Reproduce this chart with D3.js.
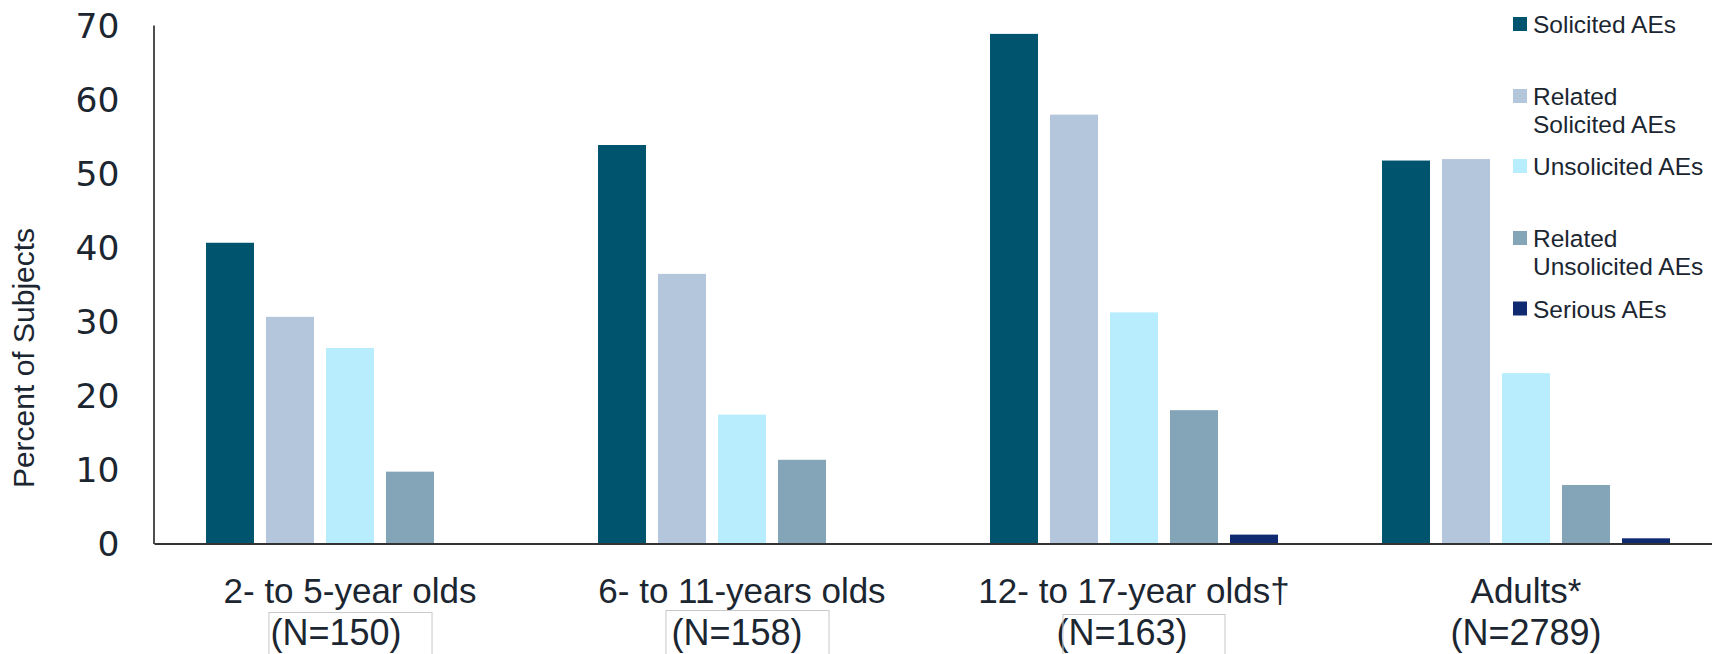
<!DOCTYPE html>
<html>
<head>
<meta charset="utf-8">
<script src="https://cdn.jsdelivr.net/npm/d3@7"></script>
<style>
  html, body { margin: 0; padding: 0; background: #fff; }
  svg { display: block; }
</style>
</head>
<body>
<svg id="chart" width="1712" height="654"></svg>
<script>
// ---- data ----
const categories = ["2- to 5-year olds", "6- to 11-years olds", "12- to 17-year olds\u2020", "Adults*"];
const sampleSizes = ["(N=150)", "(N=158)", "(N=163)", "(N=2789)"];
const seriesNames = ["Solicited AEs", "Related Solicited AEs", "Unsolicited AEs", "Related Unsolicited AEs", "Serious AEs"];
const solicited          = [40.6, 53.8, 68.8, 51.7];
const relatedSolicited   = [30.6, 36.4, 57.9, 51.9];
const unsolicited        = [26.4, 17.4, 31.2, 23.0];
const relatedUnsolicited = [9.7, 11.3, 18.0, 7.9];
const serious            = [0, 0, 1.2, 0.7];
const yTicks = [0, 10, 20, 30, 40, 50, 60, 70];
const legendLines = [["Solicited AEs"], ["Related", "Solicited AEs"], ["Unsolicited AEs"], ["Related", "Unsolicited AEs"], ["Serious AEs"]];

// ---- style / layout ----
const colors = ["#00546e", "#b3c6dc", "#b7edfd", "#84a4b7", "#102a72"];
const legendBaselines = [33, 105, 175, 247, 317.5];
const nLabelShift = [-14, -5, -12, 0];       // horizontal nudge of N lines
const boxes = [ {dx: -2, extra: 30, top: 612}, {dx: -6, extra: 26, top: 610}, {dx: 6, extra: 37, top: 614}, null ];

const allSeries = [solicited, relatedSolicited, unsolicited, relatedUnsolicited, serious];

const svg = d3.select("#chart");
const textColor = "#1b2631";

const y = d3.scaleLinear().domain([0, 70]).range([543.5, 25]);
const x0 = d3.scaleBand().domain(categories).range([154, 1722]).paddingInner(0.2347).paddingOuter(0.1173);
const x1 = d3.scaleBand().domain(seriesNames).range([0, x0.bandwidth()]).paddingInner(0.2).paddingOuter(0.1);

// bars
const groups = svg.append("g").selectAll("g")
  .data(categories)
  .join("g")
  .attr("transform", d => `translate(${x0(d)},0)`);

groups.selectAll("rect")
  .data((d, i) => seriesNames.map((s, j) => ({ s, j, v: allSeries[j][i] })))
  .join("rect")
  .attr("x", d => x1(d.s))
  .attr("width", x1.bandwidth())
  .attr("y", d => y(d.v))
  .attr("height", d => y(0) - y(d.v))
  .attr("fill", d => colors[d.j]);

// y axis
const yAxis = svg.append("g")
  .attr("transform", "translate(153.5,0)")
  .call(d3.axisLeft(y).tickValues(yTicks).tickSize(0).tickSizeOuter(0).tickPadding(34));
yAxis.select(".domain").attr("stroke", "#222").attr("stroke-width", 1.6);
yAxis.selectAll("text")
  .attr("font-family", "DejaVu Sans, sans-serif")
  .attr("font-size", 34.5)
  .attr("fill", textColor)
  .attr("dy", "0.36em");

// x axis (baseline)
const xAxis = svg.append("g")
  .attr("transform", `translate(0,${y(0)})`)
  .call(d3.axisBottom(x0).tickSize(0).tickSizeOuter(0).tickFormat(""));
xAxis.select(".domain").attr("stroke", "#333").attr("stroke-width", 2);

// category labels
const labelFont = "Liberation Sans, Arial, sans-serif";
categories.forEach((c, i) => {
  const cx = x0(c) + x0.bandwidth() / 2;
  svg.append("text")
    .attr("x", cx).attr("y", 603)
    .attr("text-anchor", "middle")
    .attr("font-family", labelFont).attr("font-size", 35)
    .attr("fill", textColor)
    .text(c);
  const t = svg.append("text")
    .attr("x", cx + nLabelShift[i]).attr("y", 645)
    .attr("text-anchor", "middle")
    .attr("font-family", labelFont).attr("font-size", 36)
    .attr("fill", textColor)
    .text(sampleSizes[i]);
  const b = boxes[i];
  if (b) {
    const bb = t.node().getBBox();
    svg.append("rect")
      .attr("x", bb.x + b.dx + 0.5).attr("y", b.top + 0.5)
      .attr("width", bb.width + b.extra - b.dx).attr("height", 60)
      .attr("fill", "none").attr("stroke", "#c8c8c8").attr("stroke-width", 1);
  }
});

// y axis title
svg.append("text")
  .attr("transform", "translate(34,358) rotate(-90)")
  .attr("text-anchor", "middle")
  .attr("font-family", labelFont).attr("font-size", 30)
  .attr("fill", textColor)
  .text("Percent of Subjects");

// legend
const legend = svg.append("g");
seriesNames.forEach((s, i) => {
  const base = legendBaselines[i];
  legend.append("rect")
    .attr("x", 1513).attr("y", base - 16)
    .attr("width", 14).attr("height", 14)
    .attr("fill", colors[i]);
  legendLines[i].forEach((line, k) => {
    legend.append("text")
      .attr("x", 1533).attr("y", base + k * 28)
      .attr("font-family", labelFont).attr("font-size", 24.5)
      .attr("fill", textColor)
      .text(line);
  });
});
</script>
</body>
</html>
